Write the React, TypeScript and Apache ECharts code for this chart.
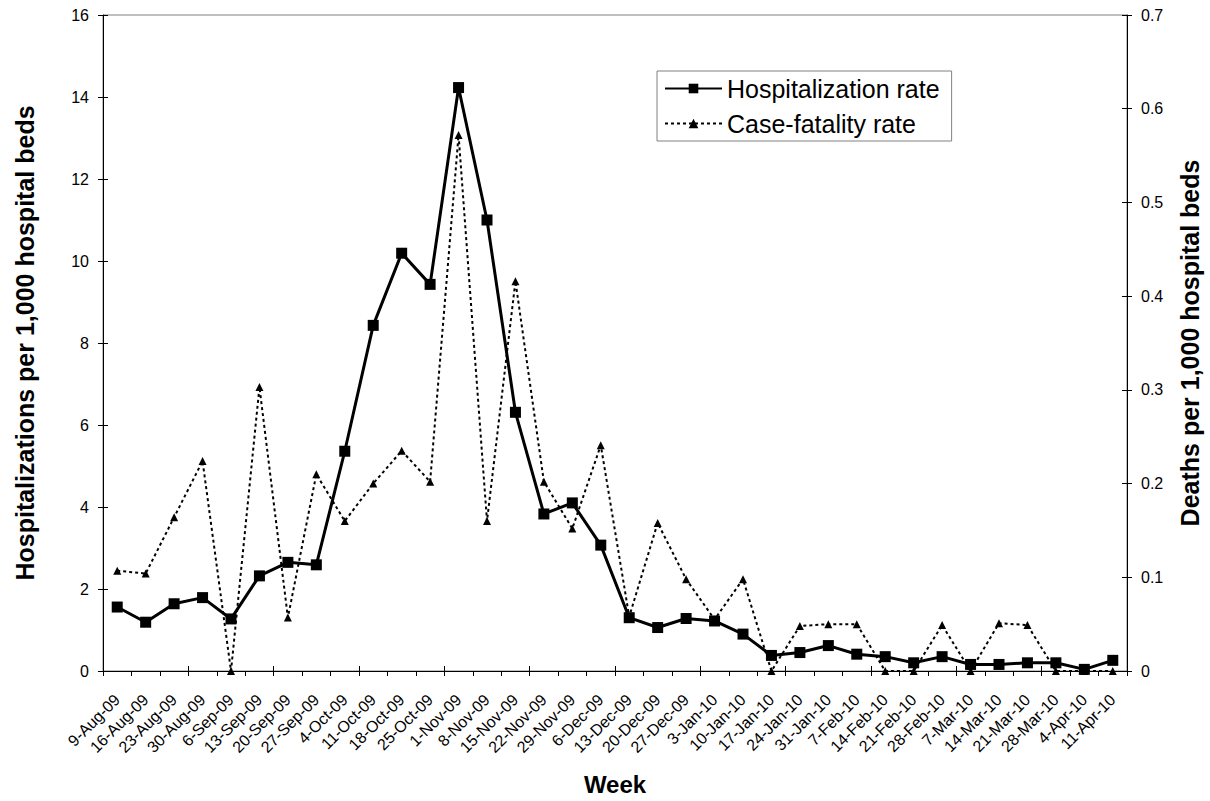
import React, { useEffect, useRef } from 'react';
import * as echarts from 'echarts';

const weeks = [
  '9-Aug-09', '16-Aug-09', '23-Aug-09', '30-Aug-09', '6-Sep-09', '13-Sep-09', '20-Sep-09', '27-Sep-09',
  '4-Oct-09', '11-Oct-09', '18-Oct-09', '25-Oct-09', '1-Nov-09', '8-Nov-09', '15-Nov-09', '22-Nov-09',
  '29-Nov-09', '6-Dec-09', '13-Dec-09', '20-Dec-09', '27-Dec-09', '3-Jan-10', '10-Jan-10', '17-Jan-10',
  '24-Jan-10', '31-Jan-10', '7-Feb-10', '14-Feb-10', '21-Feb-10', '28-Feb-10', '7-Mar-10', '14-Mar-10',
  '21-Mar-10', '28-Mar-10', '4-Apr-10', '11-Apr-10',
];

const hospitalizationRate = [
  1.56, 1.19, 1.64, 1.79, 1.27, 2.32, 2.65, 2.59,
  5.36, 8.43, 10.19, 9.43, 14.23, 11.0, 6.31, 3.83,
  4.1, 3.07, 1.3, 1.06, 1.28, 1.22, 0.9, 0.38,
  0.45, 0.62, 0.41, 0.35, 0.2, 0.35, 0.16, 0.16,
  0.2, 0.2, 0.04, 0.26,
];

const caseFatalityRate = [
  0.107, 0.104, 0.164, 0.224, 0, 0.303, 0.057, 0.21,
  0.16, 0.2, 0.235, 0.202, 0.572, 0.16, 0.416, 0.202,
  0.152, 0.241, 0.058, 0.158, 0.098, 0.055, 0.098, 0,
  0.048, 0.05, 0.05, 0, 0, 0.049, 0, 0.051,
  0.049, 0, 0, 0,
];

const seriesNames = ['Hospitalization rate', 'Case-fatality rate'];
const axisTitles = {
  left: 'Hospitalizations per 1,000 hospital beds',
  right: 'Deaths per 1,000 hospital beds',
  bottom: 'Week',
};

const FONT = "'Liberation Sans', Arial, Helvetica, sans-serif";

export default function App() {
  const ref = useRef<HTMLDivElement>(null);

  useEffect(() => {
    if (!ref.current) return;
    const chart = echarts.init(ref.current, null, { renderer: 'svg' });

    const tickStyle = { color: '#000', width: 1 };
    const labelBase = { color: '#000', fontFamily: FONT, fontSize: 16 };
    const titleStyle = { color: '#000', fontFamily: FONT, fontSize: 25, fontWeight: 'bold' as const };

    chart.setOption({
      animation: false,
      backgroundColor: '#fff',
      grid: {
        left: 103,
        right: 81,
        top: 15,
        bottom: 122,
        show: true,
        borderColor: '#808080',
        borderWidth: 1,
        backgroundColor: 'transparent',
      },
      legend: {
        left: 657,
        top: 71,
        orient: 'vertical',
        padding: [5, 12, 5, 7],
        itemGap: 10,
        itemWidth: 57,
        itemHeight: 12,
        borderColor: '#808080',
        borderWidth: 1,
        backgroundColor: '#fff',
        textStyle: { color: '#000', fontFamily: FONT, fontSize: 25, lineHeight: 25 },
        data: seriesNames,
      },
      xAxis: [
        {
          type: 'category',
          data: weeks,
          boundaryGap: true,
          axisLine: { show: true, lineStyle: tickStyle },
          axisTick: { show: true, length: 5, lineStyle: tickStyle },
          axisLabel: { ...labelBase, rotate: 45, interval: 0, margin: 26 },
          splitLine: { show: false },
          name: axisTitles.bottom,
          nameLocation: 'middle',
          nameGap: 101,
          nameTextStyle: { ...titleStyle, fontSize: 24 },
        },
        {
          type: 'category',
          data: weeks,
          position: 'bottom',
          boundaryGap: true,
          axisLine: { show: false },
          axisTick: { show: true, inside: true, length: 5, lineStyle: tickStyle },
          axisLabel: { show: false },
          splitLine: { show: false },
        },
      ],
      yAxis: [
        {
          type: 'value',
          position: 'left',
          min: 0,
          max: 16,
          interval: 2,
          axisLine: { show: true, lineStyle: tickStyle },
          axisTick: { show: true, length: 5, lineStyle: tickStyle },
          axisLabel: { ...labelBase, margin: 14 },
          splitLine: { show: false },
          name: axisTitles.left,
          nameLocation: 'middle',
          nameGap: 66,
          nameTextStyle: titleStyle,
        },
        {
          type: 'value',
          position: 'right',
          min: 0,
          max: 0.7,
          interval: 0.1,
          axisLine: { show: true, lineStyle: tickStyle },
          axisTick: { show: true, length: 5, lineStyle: tickStyle },
          axisLabel: {
            ...labelBase,
            margin: 14,
            formatter: (v: number) => (v === 0 ? '0' : String(Math.round(v * 10) / 10)),
          },
          splitLine: { show: false },
          name: axisTitles.right,
          nameLocation: 'middle',
          nameGap: 50,
          nameTextStyle: titleStyle,
        },
        {
          type: 'value',
          position: 'left',
          min: 0,
          max: 16,
          interval: 2,
          axisLine: { show: false },
          axisTick: { show: true, inside: true, length: 5, lineStyle: tickStyle },
          axisLabel: { show: false },
          splitLine: { show: false },
        },
        {
          type: 'value',
          position: 'right',
          min: 0,
          max: 0.7,
          interval: 0.1,
          axisLine: { show: false },
          axisTick: { show: true, inside: true, length: 5, lineStyle: tickStyle },
          axisLabel: { show: false },
          splitLine: { show: false },
        },
      ],
      series: [
        {
          name: seriesNames[0],
          type: 'line',
          xAxisIndex: 0,
          yAxisIndex: 0,
          data: hospitalizationRate,
          symbol: 'rect',
          symbolSize: 11,
          showAllSymbol: true,
          lineStyle: { color: '#000', width: 3 },
          itemStyle: { color: '#000' },
          emphasis: { disabled: true },
          z: 2,
        },
        {
          name: seriesNames[1],
          type: 'line',
          xAxisIndex: 0,
          yAxisIndex: 1,
          data: caseFatalityRate,
          symbol: 'triangle',
          symbolSize: 8,
          showAllSymbol: true,
          lineStyle: { color: '#000', width: 2, type: [3, 3] },
          itemStyle: { color: '#000' },
          emphasis: { disabled: true },
          z: 3,
        },
      ],
    });

    return () => chart.dispose();
  }, []);

  return (
    <div
      ref={ref}
      style={{ position: 'absolute', left: 0, top: 0, width: 1210, height: 801, background: '#fff' }}
    />
  );
}
